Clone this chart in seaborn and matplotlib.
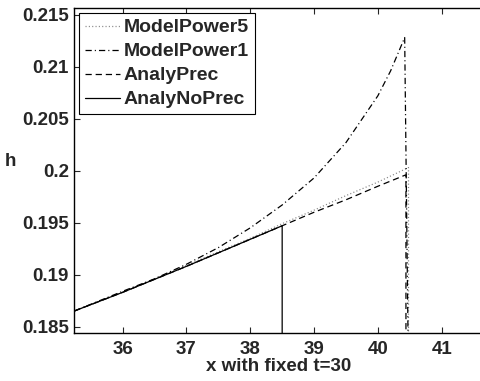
import matplotlib
matplotlib.use("Agg")
import matplotlib.pyplot as plt
import seaborn as sns

x_p5 = [35.24, 36.0, 37.0, 38.0, 38.5, 39.0, 39.5, 40.0, 40.48, 40.48]
h_p5 = [0.1865, 0.1883, 0.1909, 0.1935, 0.1949, 0.1962, 0.1976, 0.1989, 0.2003, 0.1800]

x_p1 = [35.24, 36.0, 36.5, 37.0, 37.5, 38.0, 38.5, 39.0, 39.5, 40.0, 40.2, 40.42, 40.48]
h_p1 = [0.1865, 0.1884, 0.1896, 0.1910, 0.1926, 0.1945, 0.1967, 0.1993, 0.2027, 0.2072, 0.2096, 0.2128, 0.1800]

x_prec = [35.24, 36.0, 37.0, 38.0, 38.5, 39.0, 39.5, 40.0, 40.44, 40.44]
h_prec = [0.1865, 0.1883, 0.1908, 0.1934, 0.1947, 0.1960, 0.1972, 0.1985, 0.1996, 0.1800]

x_noprec = [35.24, 36.0, 37.0, 38.0, 38.5, 38.5]
h_noprec = [0.1865, 0.1883, 0.1908, 0.1934, 0.1947, 0.1800]

labels = ["ModelPower5", "ModelPower1", "AnalyPrec", "AnalyNoPrec"]

sns.set_style("ticks")
plt.rcParams['font.family'] = ['Liberation Sans', 'DejaVu Sans']
plt.rcParams['font.weight'] = 'bold'
plt.rcParams['lines.scale_dashes'] = False

fig = plt.figure(figsize=(4.81, 3.81), dpi=100)
ax = fig.add_axes([0.1538, 0.126, 0.852, 0.853])

# dash patterns in points, roughly like the matlab export
series = [(x_p5, h_p5, (0, (0.8, 1.6)), '#888888'),
          (x_p1, h_p1, (0, (4.5, 2.2, 0.8, 2.2)), 'black'),
          (x_prec, h_prec, (0, (4.5, 2.8)), 'black'),
          (x_noprec, h_noprec, '-', 'black')]
for (xs, hs, ls, col), lab in zip(series, labels):
    sns.lineplot(x=xs, y=hs, sort=False, estimator=None, ax=ax,
                 linestyle=ls, color=col, linewidth=0.9, label=lab)

ax.set_xlim(35.237, 41.66)
ax.set_ylim(0.18439, 0.21564)
ax.set_xticks([36, 37, 38, 39, 40, 41])
ax.set_yticks([0.185, 0.19, 0.195, 0.2, 0.205, 0.21, 0.215])
ax.set_yticklabels(["0.185", "0.19", "0.195", "0.2", "0.205", "0.21", "0.215"])
ax.tick_params(direction='in', top=True, right=False, labelsize=13.5, length=4, width=0.8)
ax.tick_params(axis='x', pad=6)
for s in ['top', 'bottom', 'left']:
    ax.spines[s].set_linewidth(1.0)
    ax.spines[s].set_color('black')
ax.spines['right'].set_visible(False)

ax.set_xlabel("x with fixed t=30", fontsize=13.5, fontweight='bold', labelpad=0)
ax.set_ylabel("h", fontsize=13.5, fontweight='bold', rotation=0)
ax.yaxis.set_label_coords(-0.155, 0.50)

leg = ax.legend(loc='upper left', fontsize=14, frameon=True, fancybox=False,
                edgecolor='black', framealpha=1, handlelength=1.8,
                handletextpad=0.2, labelspacing=0.33, borderpad=0.3,
                borderaxespad=0.25)
leg.get_frame().set_linewidth(0.8)

fig.savefig("out.png", dpi=100)
